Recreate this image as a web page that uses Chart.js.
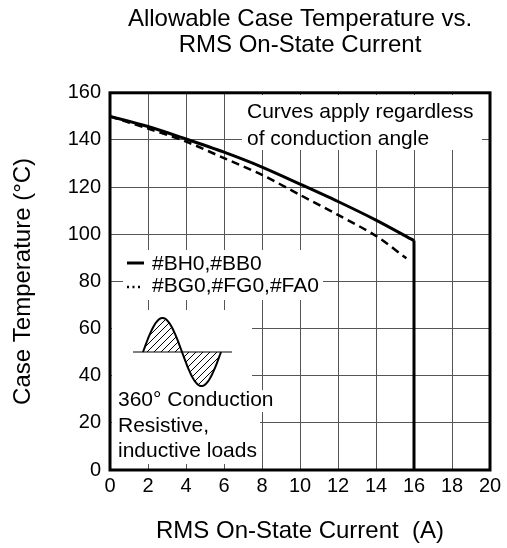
<!DOCTYPE html>
<html>
<head>
<meta charset="utf-8">
<script src="https://cdn.jsdelivr.net/npm/chart.js@4/dist/chart.umd.min.js"></script>
<style>
  html, body { margin: 0; padding: 0; background: #fff; }
  #wrap { width: 507px; height: 548px; }
</style>
</head>
<body>
<div id="wrap"><canvas id="chart" width="507" height="548"></canvas></div>
<script>
// === Curve data ===
const currentBH0 = [0, 2, 4, 6, 8, 10, 12, 14, 16];                     // A
const tempBH0    = [150, 145.7, 140.4, 134.8, 128.5, 121.3, 113.9, 106, 97.3]; // degC
const cutoffCurrent = [16, 16];        // the #BH0 curve drops straight down at 16 A
const cutoffTemp    = [97.3, 0];
const currentBG0 = [0, 2, 4, 6, 8, 10, 12, 14, 15.6];
const tempBG0    = [150, 144.8, 139.3, 132.3, 125.2, 116.7, 108.2, 99.3, 89.8];

const xTicks = [0, 2, 4, 6, 8, 10, 12, 14, 16, 18, 20];
const yTicks = [0, 20, 40, 60, 80, 100, 120, 140, 160];

const seriesNames = ['#BH0,#BB0', '#BG0,#FG0,#FA0'];
const noteTop = ['Curves apply regardless', 'of conduction angle'];
const noteBottom = ['360\u00B0 Conduction', 'Resistive,', 'inductive loads'];

const FONT = "'Liberation Sans', Arial, sans-serif";
Chart.defaults.font.family = FONT;
Chart.defaults.color = '#000';

const toPoints = (xs, ys) => xs.map((x, i) => ({ x: x, y: ys[i] }));

// white patches that hide the grid behind the notes (like the datasheet)
const patches = [
  [242, 95, 240, 55],
  [123, 250, 200, 50],
  [112, 310, 140, 80],
  [112, 390, 168, 22],
  [112, 412, 148, 52]
];

function drawSine(ctx, x0, yc, period, amp) {
  ctx.save();
  ctx.beginPath();
  ctx.moveTo(x0, yc);
  for (let t = 0; t <= period; t++) {
    ctx.lineTo(x0 + t, yc - amp * Math.sin(2 * Math.PI * t / period));
  }
  ctx.closePath();
  ctx.save();
  ctx.clip();
  ctx.lineWidth = 1;
  ctx.strokeStyle = '#000';
  ctx.beginPath();
  for (let k = -90; k < period + 10; k += 7) {
    ctx.moveTo(x0 + k, yc + 45);
    ctx.lineTo(x0 + k + 90, yc - 45);
  }
  ctx.stroke();
  ctx.restore();
  // axis through the wave
  ctx.lineWidth = 1;
  ctx.beginPath();
  ctx.moveTo(x0 - 10, yc);
  ctx.lineTo(x0 + period + 11, yc);
  ctx.stroke();
  // wave outline
  ctx.lineWidth = 2;
  ctx.beginPath();
  for (let t = 0; t <= period; t++) {
    const y = yc - amp * Math.sin(2 * Math.PI * t / period);
    if (t === 0) ctx.moveTo(x0 + t, y); else ctx.lineTo(x0 + t, y);
  }
  ctx.stroke();
  ctx.restore();
}

const notesPlugin = {
  id: 'notes',
  beforeDatasetsDraw(chart) {
    const ctx = chart.ctx;
    ctx.save();
    ctx.fillStyle = '#fff';
    patches.forEach(p => ctx.fillRect(p[0], p[1], p[2], p[3]));

    ctx.fillStyle = '#000';
    ctx.font = '21px ' + FONT;
    ctx.textAlign = 'left';
    ctx.textBaseline = 'alphabetic';
    ctx.fillText(noteTop[0], 247, 118);
    ctx.fillText(noteTop[1], 247, 145);

    // legend
    ctx.fillText(seriesNames[0], 152, 270);
    ctx.fillText(seriesNames[1], 152, 292);
    ctx.strokeStyle = '#000';
    ctx.lineWidth = 3;
    ctx.beginPath();
    ctx.moveTo(127, 263);
    ctx.lineTo(144, 263);
    ctx.stroke();
    ctx.lineWidth = 2.5;
    ctx.setLineDash([2, 3.5]);
    ctx.beginPath();
    ctx.moveTo(127, 287);
    ctx.lineTo(142, 287);
    ctx.stroke();
    ctx.setLineDash([]);

    drawSine(ctx, 143, 352, 78, 34);

    ctx.fillText(noteBottom[0], 118, 406);
    ctx.fillText(noteBottom[1], 118, 432);
    ctx.fillText(noteBottom[2], 118, 457);
    ctx.restore();
  },
  afterDatasetsDraw(chart) {
    const a = chart.chartArea;
    const ctx = chart.ctx;
    ctx.save();
    ctx.strokeStyle = '#000';
    ctx.lineWidth = 3;
    ctx.strokeRect(a.left, a.top, a.right - a.left, a.bottom - a.top);
    ctx.restore();
  }
};

new Chart(document.getElementById('chart'), {
  type: 'scatter',
  data: {
    datasets: [{
      label: seriesNames[0],
      data: toPoints(currentBH0, tempBH0),
      showLine: true,
      borderColor: '#000',
      borderWidth: 3,
      pointRadius: 0,
      tension: 0.3
    }, {
      label: seriesNames[0] + ' cutoff',
      data: toPoints(cutoffCurrent, cutoffTemp),
      showLine: true,
      borderColor: '#000',
      borderWidth: 3,
      pointRadius: 0,
      tension: 0
    }, {
      label: seriesNames[1],
      data: toPoints(currentBG0, tempBG0),
      showLine: true,
      borderColor: '#000',
      borderWidth: 2.5,
      borderDash: [8, 5],
      pointRadius: 0,
      tension: 0.3
    }]
  },
  options: {
    responsive: false,
    animation: false,
    devicePixelRatio: 1,
    layout: { padding: { left: 0, right: 17, top: 0, bottom: 0 } },
    plugins: {
      legend: { display: false },
      tooltip: { enabled: false },
      title: {
        display: true,
        fullSize: false,
        text: ['Allowable Case Temperature vs.', 'RMS On-State Current'],
        font: { size: 24, weight: 'normal', lineHeight: 1.1 },
        color: '#000',
        padding: { top: 6, bottom: 34 }
      }
    },
    scales: {
      x: {
        type: 'linear',
        min: 0,
        max: 20,
        afterBuildTicks: s => { s.ticks = xTicks.map(v => ({ value: v })); },
        afterFit: s => { s.height = 78; },
        ticks: { font: { size: 20 }, color: '#000', padding: 4, maxRotation: 0 },
        grid: { color: '#555', lineWidth: 1, drawTicks: false },
        border: { display: false },
        title: {
          display: true,
          text: 'RMS On-State Current  (A)',
          font: { size: 24 },
          color: '#000',
          padding: { top: 0, bottom: 2 }
        }
      },
      y: {
        type: 'linear',
        min: 0,
        max: 160,
        afterBuildTicks: s => { s.ticks = yTicks.map(v => ({ value: v })); },
        afterFit: s => { s.width = 110; },
        ticks: { font: { size: 20 }, color: '#000', padding: 9 },
        grid: { color: '#555', lineWidth: 1, drawTicks: false },
        border: { display: false },
        title: {
          display: true,
          text: 'Case Temperature (\u00B0C)',
          font: { size: 24 },
          color: '#000',
          padding: { top: 9, bottom: 0 }
        }
      }
    }
  },
  plugins: [notesPlugin]
});
</script>
</body>
</html>
